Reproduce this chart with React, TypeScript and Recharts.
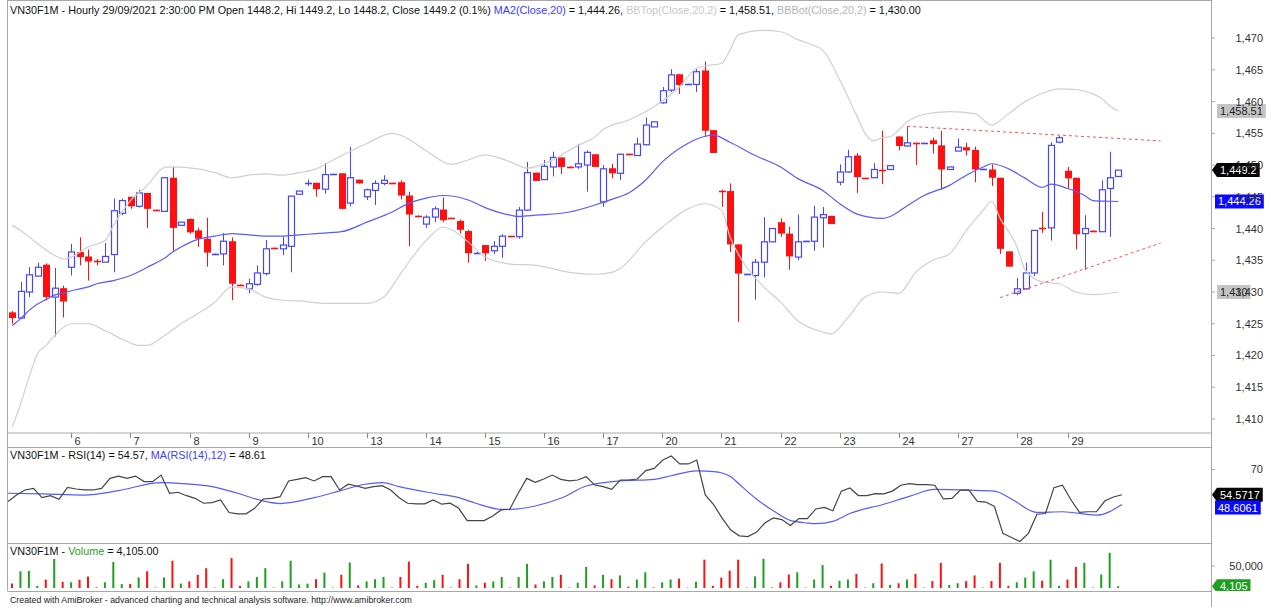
import React from 'react'
import { ComposedChart, Bar, Line, XAxis, YAxis, ReferenceLine, Cell } from 'recharts'

// hourly bars, one row per trading day (7 bars, 28/09 has 6)
const opens = [
  1426.8, 1425.9, 1430.0, 1432.5, 1434.3, 1429.2, 1430.6,
  1433.9, 1436.3, 1435.6, 1434.9, 1434.7, 1435.9, 1442.4,
  1445.0, 1443.5, 1445.6, 1443.0, 1442.7, 1448.0, 1440.5,
  1441.5, 1439.7, 1438.4, 1436.0, 1436.0, 1438.0, 1431.2,
  1430.5, 1431.2, 1432.9, 1437.0, 1436.8, 1437.2, 1445.4,
  1447.2, 1447.2, 1446.2, 1448.5, 1448.7, 1444.0, 1447.7,
  1445.0, 1446.0, 1447.1, 1447.2, 1447.3, 1445.2, 1442.1,
  1440.7, 1441.8, 1443.0, 1441.7, 1441.2, 1439.6, 1436.1,
  1437.4, 1436.5, 1437.2, 1438.8, 1438.7, 1442.9, 1448.8,
  1447.7, 1449.7, 1451.2, 1449.8, 1449.7, 1450.0, 1451.7,
  1444.2, 1449.5, 1448.7, 1451.8, 1451.5, 1453.2, 1456.0,
  1459.8, 1461.8, 1464.3, 1462.7, 1462.7, 1464.9, 1455.5,
  1445.9, 1445.9, 1437.5, 1432.8, 1432.6, 1434.7, 1437.9,
  1441.0, 1439.2, 1435.5, 1438.0, 1438.0, 1441.7, 1442.0,
  1447.3, 1448.9, 1451.5, 1448.0, 1448.0, 1449.3, 1449.3,
  1454.5, 1453.0, 1453.5, 1453.4, 1453.9, 1453.1, 1449.3,
  1452.2, 1452.8, 1452.4, 1449.3, 1449.3, 1448.0, 1436.4,
  1429.8, 1430.5, 1433.0, 1440.1, 1440.1, 1453.6,
  1449.1, 1448.0, 1439.2, 1439.7, 1439.5, 1446.3, 1448.2,
]
const highs = [
  1427.0, 1431.6, 1433.9, 1434.6, 1434.5, 1433.8, 1431.0,
  1437.6, 1438.6, 1436.7, 1435.2, 1437.7, 1444.7, 1444.7,
  1445.0, 1446.1, 1445.6, 1443.0, 1448.0, 1449.7, 1441.0,
  1441.6, 1440.1, 1441.7, 1436.1, 1439.3, 1438.6, 1431.2,
  1432.1, 1434.2, 1438.2, 1437.0, 1438.7, 1445.1, 1445.9,
  1447.7, 1447.2, 1450.3, 1448.6, 1448.7, 1452.9, 1447.7,
  1446.3, 1447.6, 1448.4, 1447.2, 1447.6, 1445.8, 1442.1,
  1442.1, 1443.5, 1444.9, 1441.7, 1441.4, 1439.8, 1436.3,
  1437.4, 1438.0, 1439.1, 1438.8, 1443.4, 1450.5, 1448.8,
  1450.8, 1452.1, 1451.2, 1449.8, 1453.3, 1452.3, 1451.7,
  1450.0, 1450.2, 1451.8, 1451.8, 1454.3, 1457.5, 1456.8,
  1462.3, 1465.1, 1464.3, 1462.8, 1465.1, 1466.3, 1455.5,
  1446.1, 1447.1, 1437.5, 1432.9, 1435.2, 1441.8, 1440.0,
  1441.6, 1440.3, 1442.2, 1438.1, 1443.6, 1443.4, 1442.0,
  1450.1, 1452.4, 1451.9, 1448.0, 1450.3, 1455.4, 1449.9,
  1454.5, 1456.1, 1453.5, 1453.5, 1454.3, 1455.4, 1449.7,
  1454.2, 1453.5, 1452.9, 1449.4, 1450.1, 1448.0, 1436.4,
  1432.2, 1434.6, 1439.7, 1442.6, 1453.6, 1454.6,
  1449.7, 1448.0, 1442.1, 1439.7, 1447.6, 1452.1, 1449.2,
]
const lows = [
  1425.0, 1425.8, 1429.2, 1432.5, 1428.7, 1423.0, 1426.0,
  1432.6, 1434.2, 1431.8, 1434.2, 1434.7, 1433.1, 1442.1,
  1443.1, 1443.3, 1440.1, 1442.9, 1442.6, 1436.5, 1440.5,
  1439.2, 1437.1, 1434.0, 1436.0, 1434.2, 1428.7, 1431.1,
  1429.8, 1431.0, 1432.6, 1436.9, 1435.8, 1433.1, 1445.4,
  1446.7, 1445.0, 1445.5, 1448.5, 1443.0, 1443.5, 1447.1,
  1444.5, 1443.7, 1446.8, 1447.1, 1444.6, 1437.2, 1442.0,
  1440.1, 1441.0, 1441.0, 1441.6, 1439.2, 1434.6, 1436.1,
  1434.9, 1436.0, 1435.4, 1438.7, 1438.4, 1442.8, 1447.5,
  1447.7, 1448.2, 1448.6, 1449.7, 1449.4, 1445.8, 1449.7,
  1443.4, 1447.9, 1447.6, 1451.7, 1451.5, 1453.1, 1456.0,
  1459.7, 1461.5, 1461.2, 1462.7, 1461.5, 1454.5, 1451.9,
  1443.4, 1436.3, 1425.3, 1432.8, 1428.8, 1432.3, 1437.9,
  1438.7, 1433.5, 1435.0, 1438.0, 1436.5, 1437.0, 1440.7,
  1446.8, 1448.8, 1445.6, 1447.9, 1448.0, 1447.0, 1449.3,
  1452.3, 1452.9, 1450.0, 1453.4, 1451.8, 1446.1, 1449.3,
  1452.2, 1451.5, 1447.3, 1449.3, 1446.7, 1436.0, 1434.0,
  1429.5, 1430.4, 1432.5, 1439.3, 1438.1, 1453.4,
  1446.3, 1436.7, 1433.5, 1439.6, 1439.5, 1438.7, 1448.2,
]
const closes = [
  1425.9, 1430.1, 1432.7, 1433.9, 1429.2, 1430.6, 1428.5,
  1436.3, 1435.5, 1434.8, 1434.8, 1435.6, 1442.8, 1444.4,
  1443.5, 1445.6, 1443.1, 1442.9, 1448.0, 1440.1, 1441.0,
  1439.4, 1438.4, 1436.2, 1436.1, 1438.0, 1431.3, 1431.1,
  1431.3, 1433.0, 1436.8, 1436.9, 1437.4, 1445.1, 1445.9,
  1447.2, 1446.2, 1448.5, 1448.6, 1443.1, 1448.0, 1447.1,
  1446.1, 1447.1, 1447.6, 1447.1, 1445.2, 1442.2, 1442.0,
  1441.8, 1443.1, 1441.3, 1441.6, 1439.8, 1436.1, 1436.3,
  1436.1, 1437.2, 1438.8, 1438.7, 1442.9, 1448.8, 1447.5,
  1449.8, 1451.2, 1449.7, 1449.7, 1450.2, 1452.0, 1449.7,
  1449.4, 1448.7, 1451.7, 1451.7, 1453.3, 1456.3, 1456.8,
  1461.7, 1464.2, 1462.6, 1462.8, 1464.7, 1455.4, 1451.9,
  1445.8, 1437.5, 1432.9, 1432.9, 1434.7, 1437.9, 1440.0,
  1439.2, 1435.6, 1437.9, 1438.1, 1441.8, 1442.2, 1440.7,
  1448.9, 1451.3, 1448.1, 1447.9, 1449.3, 1449.2, 1449.9,
  1453.0, 1453.5, 1453.4, 1453.5, 1453.3, 1449.3, 1449.7,
  1452.8, 1452.3, 1449.3, 1449.4, 1448.0, 1436.8, 1434.0,
  1430.5, 1433.0, 1439.7, 1440.0, 1453.1, 1454.3,
  1447.9, 1439.1, 1440.0, 1439.6, 1446.1, 1448.0, 1449.2,
]
const volumes = [
  10000, 38000, 39000, 5000, 19000, 66000, 14000,
  13000, 19000, 26000, 1500, 13000, 59000, 9000,
  9000, 24000, 38000, 1000, 24000, 62000, 10000,
  15000, 30000, 45000, 1000, 20000, 68000, 5000,
  15000, 25000, 45000, 1000, 15000, 62000, 8000,
  10000, 20000, 35000, 1000, 30000, 58000, 6000,
  15000, 20000, 25000, 1000, 25000, 60000, 5000,
  12000, 18000, 30000, 1000, 20000, 55000, 6000,
  12000, 15000, 25000, 1000, 25000, 55000, 8000,
  15000, 25000, 30000, 1000, 12000, 48000, 6000,
  30000, 20000, 28600, 3000, 19300, 35700, 1400,
  12900, 19300, 21400, 1000, 14300, 64300, 5000,
  23600, 39300, 64300, 1000, 26400, 66400, 1400,
  12900, 30700, 35700, 1000, 19300, 52100, 5000,
  16400, 19300, 32100, 1000, 10700, 55700, 7100,
  10700, 19300, 32100, 1000, 15700, 57100, 7100,
  10700, 15700, 28600, 1000, 15700, 57100, 5000,
  12900, 23600, 37900, 16400, 64300, 5000,
  19300, 47800, 57100, 1000, 30700, 80000, 4105,
]
const rsi = [
  50.4, 54.4, 57.5, 58.5, 52.8, 54.0, 51.8,
  59.1, 58.1, 57.5, 57.5, 58.5, 64.6, 66.0,
  64.6, 66.0, 62.6, 62.6, 66.6, 55.5, 56.1,
  54.0, 52.4, 49.4, 49.8, 51.4, 43.7, 42.9,
  42.9, 46.3, 52.0, 52.4, 53.4, 63.0, 64.0,
  65.0, 63.0, 65.6, 65.6, 57.5, 61.0, 59.9,
  58.5, 59.5, 60.1, 57.5, 52.8, 49.4, 49.0,
  49.0, 51.4, 48.8, 49.4, 46.3, 38.8, 38.8,
  38.8, 41.6, 45.3, 45.7, 55.5, 64.6, 62.2,
  64.2, 66.6, 64.0, 63.0, 63.6, 65.6, 60.5,
  59.5, 57.9, 63.6, 63.6, 64.2, 69.3, 70.7,
  75.8, 78.2, 73.4, 73.4, 75.8, 54.5, 48.4,
  40.2, 33.0, 29.5, 29.0, 31.6, 37.3, 40.4,
  39.4, 35.8, 40.0, 40.0, 45.9, 46.9, 44.8,
  56.8, 58.7, 54.1, 54.1, 55.3, 55.1, 56.8,
  60.4, 61.4, 60.8, 60.8, 60.4, 52.0, 52.4,
  57.4, 57.4, 50.5, 50.1, 47.4, 31.0, 28.5,
  26.0, 31.0, 42.7, 43.1, 58.9, 60.4,
  51.5, 43.8, 44.2, 44.2, 50.9, 53.2, 54.57,
]

// smooth indicator curves read at selected bars: [bar number, value]
const maPts = [
  [1, 1424.7], [2, 1425.8], [3, 1427.1], [4, 1428.1], [5, 1428.8], [6, 1429.5], [7, 1429.8], [8, 1430.2],
  [10, 1430.8], [11, 1431.3], [13, 1431.8], [15, 1432.6], [17, 1433.9], [19, 1435.3], [20, 1436.3], [21, 1437.1],
  [23, 1438.3], [25, 1438.8], [27, 1439.2], [29, 1439.0], [31, 1438.8], [33, 1438.8], [35, 1439.0], [37, 1439.2],
  [40, 1439.5], [43, 1441.0], [46, 1442.6], [48, 1444.0], [50, 1444.8], [52, 1445.2], [55, 1444.5], [57, 1443.3],
  [60, 1442.1], [61, 1441.9], [63, 1442.1], [67, 1442.6], [70, 1443.7], [72, 1444.6], [74, 1445.6], [76, 1447.6],
  [78, 1450.5], [81, 1453.4], [83, 1454.5], [84, 1454.7], [86, 1453.6], [89, 1451.5], [92, 1449.7], [94, 1447.9],
  [97, 1446.0], [99, 1443.9], [101, 1442.3], [104, 1441.6], [105, 1441.9], [107, 1443.6], [109, 1445.2], [112, 1446.8],
  [114, 1448.4], [116, 1449.7], [117, 1450.2], [119, 1449.4], [121, 1447.9], [123, 1446.5], [124, 1447.0], [126, 1446.3],
  [128, 1445.2], [129, 1444.4], [131, 1444.3], [132, 1444.26],
]
const bbTopPts = [
  [1, 1440.5], [2, 1439.7], [4, 1437.6], [6, 1435.8], [7, 1435.2], [8, 1435.5], [10, 1437.1], [12, 1438.1],
  [13, 1440.5], [15, 1444.4], [17, 1446.8], [19, 1449.6], [20, 1449.7], [23, 1449.4], [25, 1448.8], [27, 1448.0],
  [29, 1448.4], [31, 1448.6], [33, 1448.4], [35, 1448.8], [37, 1449.4], [39, 1450.8], [43, 1453.4], [46, 1455.0],
  [47, 1454.7], [50, 1452.3], [53, 1450.1], [55, 1450.8], [57, 1451.6], [60, 1450.5], [62, 1449.5], [65, 1450.8],
  [68, 1453.1], [70, 1454.4], [71, 1455.6], [74, 1457.1], [77, 1459.2], [80, 1462.3], [82, 1465.2], [83, 1465.6],
  [85, 1466.0], [86, 1468.1], [87, 1470.5], [90, 1471.2], [92, 1471.0], [94, 1469.8], [96, 1468.8], [97, 1468.1],
  [99, 1463.4], [101, 1457.8], [102, 1455.0], [103, 1453.8], [104, 1454.3], [105, 1454.5], [107, 1456.8], [109, 1458.0],
  [112, 1458.4], [115, 1458.1], [117, 1456.3], [119, 1458.1], [121, 1460.0], [123, 1461.3], [125, 1462.0], [127, 1461.9],
  [129, 1461.2], [130, 1460.5], [131, 1459.3], [132, 1458.51],
]
const bbBotPts = [
  [1, 1408.7], [2, 1412.4], [3, 1416.6], [4, 1420.3], [5, 1421.6], [6, 1423.1], [8, 1425.0], [10, 1425.0],
  [12, 1423.9], [14, 1422.6], [16, 1421.6], [17, 1421.6], [19, 1423.1], [21, 1425.0], [23, 1426.6], [25, 1428.4],
  [27, 1430.8], [29, 1430.5], [31, 1429.2], [33, 1428.7], [35, 1428.6], [37, 1428.3], [39, 1428.2], [43, 1428.2],
  [45, 1429.2], [47, 1432.9], [50, 1438.1], [52, 1440.2], [55, 1437.9], [57, 1435.5], [60, 1434.4], [63, 1434.2],
  [67, 1433.1], [70, 1432.8], [72, 1433.1], [73, 1433.7], [76, 1437.9], [78, 1440.2], [81, 1443.1], [83, 1443.9],
  [85, 1442.9], [86, 1438.7], [88, 1433.9], [90, 1430.8], [92, 1428.4], [94, 1425.5], [97, 1423.7], [98, 1423.4],
  [100, 1426.0], [102, 1429.2], [104, 1430.0], [106, 1429.8], [108, 1433.1], [110, 1435.0], [112, 1436.0], [114, 1439.7],
  [116, 1442.9], [117, 1444.3], [118, 1441.6], [120, 1437.1], [121, 1433.4], [123, 1431.6], [125, 1431.3], [127, 1430.0],
  [129, 1429.6], [132, 1430.0],
]
const rsiMaPts = [
  [1, 55.5], [5, 55.1], [10, 54.4], [14, 57.1], [19, 62.0], [22, 61.2], [25, 59.5], [28, 55.5], [31, 50.8], [33, 49.2],
  [37, 52.8], [40, 56.9], [43, 61.0], [45, 62.0], [47, 59.5], [51, 55.5], [54, 52.8], [56, 49.4], [59, 45.7], [60, 45.7],
  [63, 47.7], [66, 52.4], [69, 59.9], [73, 63.0], [77, 64.0], [79, 66.2], [82, 69.1], [84, 68.7], [86, 65.6], [87, 61.0],
  [89, 52.0], [91, 44.8], [93, 38.9], [95, 37.3], [96, 36.9], [98, 38.3], [100, 43.1], [104, 48.8], [107, 53.6], [110, 57.8],
  [114, 57.4], [117, 56.8], [119, 52.0], [122, 43.8], [125, 44.2], [129, 42.1], [132, 48.61],
]

// first bar of each day and its label
const dayStarts: [number, string][] = [
  [8, '6'], [15, '7'], [22, '8'], [29, '9'], [36, '10'], [43, '13'], [50, '14'], [57, '15'], [64, '16'],
  [71, '17'], [78, '20'], [85, '21'], [92, '22'], [99, '23'], [106, '24'], [113, '27'], [120, '28'], [126, '29'],
]
// hand drawn triangle: [bar, price] start and end
const trendTop = [[107, 1456.1], [137, 1453.8]]
const trendBot = [[118, 1429.1], [137, 1437.7]]

const priceTicks = [1410, 1415, 1420, 1425, 1430, 1435, 1440, 1445, 1450, 1455, 1460, 1465, 1470]

const EMPTY_SLOTS = 10
const BLUE = '#4646ff'
const RED = '#ff1010'
const GREEN = '#1f9e1f'
const FRAME = '#a8a8a8'
const FONT = '"Liberation Sans", Arial, sans-serif'
const W = 1277
const AXIS_W = 66
const LEFT = 8

const dayLabel = new Map(dayStarts)
const toMap = (pts: number[][]) => new Map(pts.map(p => [p[0], p[1]]))
const maM = toMap(maPts), topM = toMap(bbTopPts), botM = toMap(bbBotPts), rmaM = toMap(rsiMaPts)

const rows = Array.from({ length: closes.length + EMPTY_SLOTS }, (_, k) => {
  const i = k + 1
  if (k >= closes.length) return { i } as any
  return {
    i, o: opens[k], h: highs[k], l: lows[k], c: closes[k],
    range: [lows[k], highs[k]],
    ma: maM.get(i), bbt: topM.get(i), bbb: botM.get(i),
    rsi: rsi[k], rsima: rmaM.get(i), vol: volumes[k],
  }
})

function Candle(props: any) {
  const { x, y, width, height, payload } = props
  if (!payload || payload.o == null) return null
  const { o, h, l, c } = payload
  const top = Math.min(y, y + height)
  const bot = Math.max(y, y + height)
  const k = h > l ? (bot - top) / (h - l) : 0
  const py = (v: number) => top + (h - v) * k
  const cx = Math.round(x + width / 2)
  const up = c >= o
  const col = up ? BLUE : RED
  const bt = py(Math.max(o, c))
  const bb = py(Math.min(o, c))
  let body
  if (bb - bt < 1.5) {
    const ym = Math.round((bt + bb) / 2) + 0.5
    body = <line x1={cx - 3} x2={cx + 4} y1={ym} y2={ym} stroke={col} strokeWidth={1.6} />
  } else if (up) {
    body = <rect x={cx - 2.5} y={bt} width={6} height={bb - bt} fill="#fff" stroke={col} strokeWidth={1.2} />
  } else {
    body = <rect x={cx - 3} y={bt} width={7} height={bb - bt} fill={col} />
  }
  return (
    <g>
      <line x1={cx + 0.5} x2={cx + 0.5} y1={top} y2={bot} stroke={col} strokeWidth={1} />
      {body}
    </g>
  )
}

function DayTick(props: any) {
  const { x, y, payload } = props
  const lbl = dayLabel.get(payload.value)
  if (!lbl) return null
  const tx = Math.round(x) + 0.5
  return (
    <g>
      <line x1={tx} x2={tx} y1={y} y2={y + 5} stroke="#888" />
      <text x={tx + 3} y={y + 12} fontSize={11} fill="#333" fontFamily={FONT}>{lbl}</text>
    </g>
  )
}

function ValueTick(props: any) {
  const { x, y, payload } = props
  return (
    <text x={x + 46} y={y + 4} textAnchor="end" fontSize={11} fill="#333" fontFamily={FONT}>
      {Number(payload.value).toLocaleString('en-US')}
    </text>
  )
}

function textW(s: string, fs: number) {
  let w = 0
  for (const ch of s) w += /[0-9]/.test(ch) ? 0.556 : 0.278
  return w * fs
}

function Badge(props: any) {
  const { viewBox, text, bg, fg = '#fff', arrow = false, dy = 0, gap = 6 } = props
  if (!viewBox) return null
  const ax = viewBox.x + viewBox.width
  const y = viewBox.y + dy
  const left = ax + gap
  const right = left + textW(text, 11) + 6
  return (
    <g>
      {arrow ? (
        <polygon points={`${ax + 1},${y} ${left},${y - 7} ${right},${y - 7} ${right},${y + 7} ${left},${y + 7}`} fill={bg} />
      ) : (
        <rect x={left} y={y - 7} width={right - left} height={14} fill={bg} />
      )}
      <text x={left + 3} y={y + 4} fontSize={11} fill={fg} fontFamily={FONT}>{text}</text>
    </g>
  )
}

const xAxisCommon = {
  dataKey: 'i',
  type: 'category' as const,
  padding: { left: 0, right: 4 },
  interval: 0,
}

function Title({ top, children }: { top: number; children: React.ReactNode }) {
  return (
    <div style={{ position: 'absolute', left: 10, top, fontSize: 10.8, lineHeight: '13px', fontFamily: FONT, color: '#111', whiteSpace: 'nowrap' }}>
      {children}
    </div>
  )
}

export default function App() {
  return (
    <div style={{ position: 'relative', width: W, height: 607, background: '#fff', overflow: 'hidden' }}>
      <style>{'body{margin:0}'}</style>

      <div style={{ position: 'absolute', left: 0, top: 0 }}>
        <ComposedChart width={W} height={447} data={rows} margin={{ top: 1, right: 0, left: LEFT, bottom: 0 }}>
          <XAxis {...xAxisCommon} height={14} ticks={dayStarts.map(d => d[0])} tick={<DayTick />} tickLine={false}
            tickSize={0} tickMargin={0} axisLine={{ stroke: FRAME }} />
          <YAxis orientation="right" width={AXIS_W} domain={[1407.79, 1475.84]} allowDataOverflow ticks={priceTicks}
            tick={<ValueTick />} tickSize={4} tickLine={{ stroke: FRAME }} axisLine={false} />
          <Line dataKey="bbt" stroke="#cfcfcf" strokeWidth={1.2} dot={false} connectNulls type="monotone" isAnimationActive={false} />
          <Line dataKey="bbb" stroke="#cfcfcf" strokeWidth={1.2} dot={false} connectNulls type="monotone" isAnimationActive={false} />
          <Bar dataKey="range" shape={<Candle />} isAnimationActive={false} />
          <Line dataKey="ma" stroke="#5a5aff" strokeWidth={1.2} dot={false} connectNulls type="monotone" isAnimationActive={false} />
          <ReferenceLine segment={[{ x: trendTop[0][0], y: trendTop[0][1] }, { x: trendTop[1][0], y: trendTop[1][1] }]}
            stroke="#ff5050" strokeDasharray="3 3" />
          <ReferenceLine segment={[{ x: trendBot[0][0], y: trendBot[0][1] }, { x: trendBot[1][0], y: trendBot[1][1] }]}
            stroke="#ff5050" strokeDasharray="3 3" />
          <ReferenceLine y={1458.51} stroke="none" label={<Badge text="1,458.51" bg="#c4c4c4" fg="#222" />} />
          <ReferenceLine y={1449.2} stroke="none" label={<Badge text="1,449.2" bg="#000" arrow />} />
          <ReferenceLine y={1444.26} stroke="none" label={<Badge text="1,444.26" bg="#0a0aff" gap={4} />} />
          <ReferenceLine y={1430} stroke="none" label={<Badge text="1,430" bg="#c4c4c4" fg="#222" />} />
        </ComposedChart>
      </div>

      <div style={{ position: 'absolute', left: 0, top: 447 }}>
        <ComposedChart width={W} height={96} data={rows} margin={{ top: 1, right: 0, left: LEFT, bottom: 0 }}>
          <XAxis {...xAxisCommon} hide />
          <YAxis orientation="right" width={AXIS_W} domain={[25.11, 83.13]} allowDataOverflow ticks={[30, 70]}
            tick={<ValueTick />} tickSize={4} tickLine={{ stroke: FRAME }} axisLine={false} />
          <Line dataKey="rsima" stroke="#5a5aff" strokeWidth={1.2} dot={false} connectNulls type="monotone" isAnimationActive={false} />
          <Line dataKey="rsi" stroke="#444" strokeWidth={1.2} dot={false} type="linear" isAnimationActive={false} />
          <ReferenceLine y={54.57} stroke="none" label={<Badge text="54.5717" bg="#000" arrow />} />
          <ReferenceLine y={48.61} stroke="none" label={<Badge text="48.6061" bg="#0a0aff" dy={3} gap={4} />} />
        </ComposedChart>
      </div>

      <div style={{ position: 'absolute', left: 0, top: 543 }}>
        <ComposedChart width={W} height={48} data={rows} margin={{ top: 1, right: 0, left: LEFT, bottom: 0 }}>
          <XAxis {...xAxisCommon} hide />
          <YAxis orientation="right" width={AXIS_W} domain={[-6818, 100000]} allowDataOverflow ticks={[0, 50000]}
            tick={<ValueTick />} tickSize={4} tickLine={{ stroke: FRAME }} axisLine={false} />
          <Bar dataKey="vol" barSize={2} isAnimationActive={false}>
            {rows.map((r, k) => <Cell key={k} fill={r.c >= r.o ? GREEN : RED} />)}
          </Bar>
          <ReferenceLine y={4105} stroke="none" label={<Badge text="4,105" bg={GREEN} arrow />} />
        </ComposedChart>
      </div>

      <svg width={W} height={607} style={{ position: 'absolute', left: 0, top: 0, pointerEvents: 'none' }}>
        <g stroke={FRAME} strokeWidth={1}>
          <line x1={7.5} x2={1211.5} y1={0.5} y2={0.5} />
          <line x1={7.5} x2={7.5} y1={0} y2={591} />
          <line x1={1211.5} x2={1211.5} y1={0} y2={607} />
          <line x1={7.5} x2={1211.5} y1={447.5} y2={447.5} />
          <line x1={7.5} x2={1211.5} y1={543.5} y2={543.5} />
          <line x1={7.5} x2={1211.5} y1={591.5} y2={591.5} />
        </g>
      </svg>

      <Title top={3.5}>
        VN30F1M - Hourly 29/09/2021 2:30:00 PM Open 1448.2, Hi 1449.2, Lo 1448.2, Close 1449.2 (0.1%){' '}
        <span style={{ color: '#3c3cff' }}>MA2(Close,20)</span> = 1,444.26,{' '}
        <span style={{ color: '#c8c8c8' }}>BBTop(Close,20,2)</span> = 1,458.51,{' '}
        <span style={{ color: '#b4b4b4' }}>BBBot(Close,20,2)</span> = 1,430.00
      </Title>
      <Title top={448.5}>
        VN30F1M - RSI(14) = 54.57, <span style={{ color: '#3c3cff' }}>MA(RSI(14),12)</span> = 48.61
      </Title>
      <Title top={544.5}>
        VN30F1M - <span style={{ color: GREEN }}>Volume</span> = 4,105.00
      </Title>
      <div style={{ position: 'absolute', left: 10, top: 595, fontSize: 8.8, lineHeight: '10px', fontFamily: FONT, color: '#222', whiteSpace: 'nowrap' }}>
        Created with AmiBroker - advanced charting and technical analysis software. http://www.amibroker.com
      </div>
    </div>
  )
}
